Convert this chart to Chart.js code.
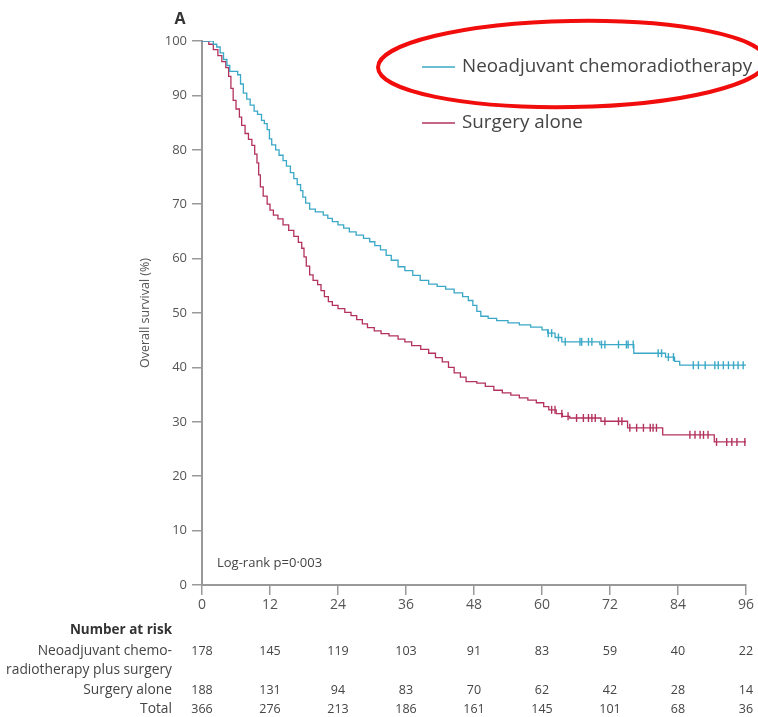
<!DOCTYPE html>
<html>
<head>
<meta charset="utf-8">
<script src="https://cdn.jsdelivr.net/npm/chart.js@4"></script>
<style>
  html, body { margin: 0; padding: 0; background: #fff; }
  #wrap { width: 758px; height: 717px; position: relative; }
</style>
</head>
<body>
<div id="wrap"><canvas id="os"></canvas></div>
<script>
// Overall survival, Kaplan-Meier, neoadjuvant chemoradiotherapy vs surgery alone

const months = [0, 12, 24, 36, 48, 60, 72, 84, 96];
const survTicks = [0, 10, 20, 30, 40, 50, 60, 70, 80, 90, 100];

// neoadjuvant chemoradiotherapy: event times (months) and survival (%)
const crtTime = [0, 2.0, 2.6, 3.2, 3.8, 4.4, 4.9, 6.3, 6.8, 7.3, 7.9, 8.5, 9.2, 9.8, 10.5, 11.0, 11.5,
  11.9, 12.3, 13.0, 13.6, 14.3, 14.9, 15.6, 16.2, 16.8, 17.4, 17.8, 18.3, 19.0, 20.0, 21.4, 22.2, 23.0,
  24.0, 25.0, 26.0, 27.2, 28.5, 29.6, 30.5, 31.5, 32.5, 33.4, 34.6, 35.8, 37.2, 38.5, 40.0, 41.5, 43.0,
  44.5, 46.0, 47.0, 47.8, 48.5, 49.2, 50.5, 52.0, 54.0, 56.0, 58.0, 60.0, 61.0, 62.3, 63.5, 70.2, 76.2,
  81.8, 83.4, 84.3, 96];
const crtSurv = [100, 99.4, 98.9, 97.8, 96.6, 95.5, 94.4, 93.8, 92.1, 90.4, 89.3, 88.2, 87.1, 86.5, 85.4, 84.8, 83.7,
  82.0, 80.9, 80.0, 79.0, 78.0, 77.0, 75.8, 74.7, 73.6, 72.5, 71.3, 70.2, 69.1, 68.6, 68.0, 67.4, 66.8,
  66.2, 65.6, 64.9, 64.3, 63.7, 63.1, 62.4, 61.6, 60.6, 59.7, 58.5, 57.8, 56.9, 56.0, 55.3, 54.9, 54.4,
  53.7, 53.0, 52.3, 51.4, 50.3, 49.4, 49.0, 48.6, 48.2, 47.8, 47.4, 46.9, 46.3, 45.5, 44.7, 44.2, 42.6,
  41.9, 41.1, 40.4, 40.4];
const crtCensor = [61.1, 61.7, 62.9, 64.1, 66.7, 67.0, 68.2, 68.8, 70.5, 71.1, 73.5, 74.9, 75.2, 76.1,
  80.5, 81.1, 82.3, 83.2, 86.7, 87.6, 88.8, 90.5, 91.1, 92.0, 92.9, 93.8, 94.6, 95.5];

// surgery alone
const surTime = [0, 1.2, 2.0, 2.8, 3.5, 4.2, 4.7, 5.1, 5.5, 6.0, 6.6, 7.0, 7.6, 8.2, 8.8, 9.3, 9.7, 10.0,
  10.3, 10.8, 11.5, 12.0, 12.6, 13.4, 14.3, 15.3, 16.2, 17.0, 17.6, 18.0, 18.4, 19.0, 19.6, 20.4, 21.0,
  21.6, 22.3, 23.0, 24.0, 25.2, 26.3, 27.3, 28.3, 29.2, 30.4, 31.6, 33.0, 34.6, 35.8, 37.0, 38.6, 40.0,
  41.2, 42.4, 43.5, 44.5, 45.6, 46.6, 48.5, 50.0, 51.5, 53.0, 54.5, 56.0, 57.5, 59.0, 60.3, 61.2, 62.5,
  63.6, 64.9, 70.4, 75.1, 81.3, 90.4, 96];
const surSurv = [100, 99.4, 98.4, 97.3, 96.2, 95.1, 93.5, 91.3, 89.1, 87.5, 86.0, 84.5, 83.0, 81.9, 80.8, 79.2, 77.6, 75.4,
  73.2, 71.5, 70.0, 68.9, 68.0, 67.3, 66.2, 65.2, 64.1, 63.0, 61.9, 60.3, 58.6, 57.0, 56.0, 55.2, 54.1,
  53.0, 52.1, 51.4, 50.8, 50.1, 49.5, 48.8, 48.0, 47.3, 46.7, 46.2, 45.8, 45.2, 44.7, 44.0, 43.3, 42.6,
  41.8, 41.0, 40.0, 39.0, 38.2, 37.4, 37.1, 36.5, 35.8, 35.3, 34.9, 34.4, 34.0, 33.5, 32.8, 32.2, 31.5,
  31.0, 30.7, 30.1, 28.9, 27.6, 26.3, 26.3];
const surCensor = [61.7, 62.3, 63.5, 64.6, 66.1, 67.3, 68.2, 68.8, 69.4, 71.1, 73.5, 74.1, 75.5, 76.7,
  77.9, 79.1, 79.6, 80.2, 86.1, 87.0, 87.9, 88.5, 89.3, 90.8, 92.6, 93.5, 94.4, 95.8];

// number at risk at each tick of months
const riskCrt = [178, 145, 119, 103, 91, 83, 59, 40, 22];
const riskSur = [188, 131, 94, 83, 70, 62, 42, 28, 14];
const riskTotal = [366, 276, 213, 186, 161, 145, 101, 68, 36];

const BLUE = '#3aa8c6';
const RED = '#b3325c';
const FONT = '"Open Sans", "Liberation Sans", sans-serif';

function stepAt(times, surv, t) {
  let v = surv[0];
  for (let i = 0; i < times.length; i++) {
    if (times[i] <= t) v = surv[i];
  }
  return v;
}

const toPts = (t, s) => t.map((x, i) => ({ x: x, y: s[i] }));
const censorPts = (c, t, s) => c.map(x => ({ x: x, y: stepAt(t, s, x) }));

const overlay = {
  id: 'overlay',
  afterDraw(chart) {
    const ctx = chart.ctx;
    const xs = chart.scales.x;
    const ys = chart.scales.y;
    ctx.save();

    // panel letter
    ctx.fillStyle = '#333';
    ctx.font = 'bold 16px ' + FONT;
    ctx.textAlign = 'center';
    ctx.textBaseline = 'middle';
    ctx.fillText('A', 180, 19);

    // y axis title
    ctx.save();
    ctx.translate(145, (ys.top + ys.bottom) / 2);
    ctx.rotate(-Math.PI / 2);
    ctx.font = '12.5px ' + FONT;
    ctx.fillStyle = '#555';
    ctx.fillText('Overall survival (%)', 0, 0);
    ctx.restore();

    // legend
    const legend = [['Neoadjuvant chemoradiotherapy', BLUE, 67], ['Surgery alone', RED, 123]];
    ctx.font = '18.8px ' + FONT;
    ctx.textAlign = 'left';
    legend.forEach(([label, col, y]) => {
      ctx.strokeStyle = col;
      ctx.lineWidth = 1.6;
      ctx.beginPath();
      ctx.moveTo(422, y);
      ctx.lineTo(455, y);
      ctx.stroke();
      ctx.fillStyle = '#444';
      ctx.fillText(label, 462, y);
    });

    // log-rank
    ctx.font = '13px ' + FONT;
    ctx.fillStyle = '#444';
    ctx.fillText('Log-rank p=0\u00b7003', 217, 563);

    // number at risk table
    ctx.textAlign = 'right';
    ctx.font = 'bold 13.5px ' + FONT;
    ctx.fillStyle = '#333';
    ctx.fillText('Number at risk', 172, 630);
    ctx.font = '13.8px ' + FONT;
    ctx.fillStyle = '#444';
    ctx.fillText('Neoadjuvant chemo-', 172, 651);
    ctx.fillText('radiotherapy plus surgery', 172, 670);
    ctx.fillText('Surgery alone', 172, 690);
    ctx.fillText('Total', 172, 709);
    ctx.textAlign = 'center';
    ctx.font = '12.5px ' + FONT;
    months.forEach((m, i) => {
      const x = xs.getPixelForValue(m);
      ctx.fillText(String(riskCrt[i]), x, 651);
      ctx.fillText(String(riskSur[i]), x, 690);
      ctx.fillText(String(riskTotal[i]), x, 709);
    });

    // red highlight ring round the first legend entry
    ctx.strokeStyle = '#f20d0d';
    ctx.lineWidth = 4;
    ctx.beginPath();
    ctx.ellipse(572, 64, 194, 43, -0.018, 0, Math.PI * 2);
    ctx.stroke();

    ctx.restore();
  }
};

new Chart(document.getElementById('os'), {
  type: 'line',
  data: {
    datasets: [
      {
        label: 'Neoadjuvant chemoradiotherapy',
        data: toPts(crtTime, crtSurv),
        borderColor: BLUE,
        borderWidth: 1.3,
        pointRadius: 0,
        stepped: 'before',
        fill: false
      },
      {
        label: 'Surgery alone',
        data: toPts(surTime, surSurv),
        borderColor: RED,
        borderWidth: 1.3,
        pointRadius: 0,
        stepped: 'before',
        fill: false
      },
      {
        type: 'scatter',
        label: 'censored crt',
        data: censorPts(crtCensor, crtTime, crtSurv),
        pointStyle: 'line',
        rotation: 90,
        radius: 4,
        borderColor: BLUE,
        borderWidth: 1.4
      },
      {
        type: 'scatter',
        label: 'censored sur',
        data: censorPts(surCensor, surTime, surSurv),
        pointStyle: 'line',
        rotation: 90,
        radius: 4,
        borderColor: RED,
        borderWidth: 1.4
      }
    ]
  },
  options: {
    responsive: true,
    maintainAspectRatio: false,
    animation: false,
    layout: { padding: { left: 0, right: 12, top: 41, bottom: 0 } },
    plugins: { legend: { display: false }, tooltip: { enabled: false } },
    scales: {
      x: {
        type: 'linear',
        min: 0,
        max: 96,
        afterBuildTicks: s => { s.ticks = months.map(v => ({ value: v })); },
        afterFit: s => { s.height = 132; },
        border: { color: '#999', width: 2 },
        grid: { drawOnChartArea: false, drawTicks: true, tickLength: 10, color: '#999', lineWidth: 1.5 },
        ticks: { color: '#555', font: { family: FONT, size: 14 }, padding: 2, maxRotation: 0 }
      },
      y: {
        min: 0,
        max: 100,
        afterBuildTicks: s => { s.ticks = survTicks.map(v => ({ value: v })); },
        afterFit: s => { s.width = 202; },
        border: { color: '#999', width: 2 },
        grid: { drawOnChartArea: false, drawTicks: true, tickLength: 10, color: '#999', lineWidth: 1.5 },
        ticks: { color: '#555', font: { family: FONT, size: 13 }, padding: 5 }
      }
    }
  },
  plugins: [overlay]
});
</script>
</body>
</html>
